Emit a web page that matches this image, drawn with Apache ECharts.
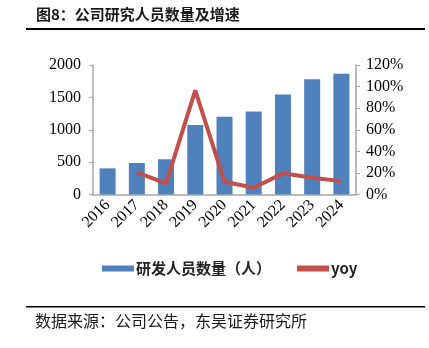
<!DOCTYPE html>
<html><head><meta charset="utf-8">
<script src="https://cdn.jsdelivr.net/npm/echarts@6/dist/echarts.min.js"></script>
<style>html,body{margin:0;padding:0;background:#fff}#c{width:429px;height:348px}</style>
</head><body><div id="c"></div>
<script>
const categories = ['2016','2017','2018','2019','2020','2021','2022','2023','2024'];
const staff = [404, 487, 544, 1073, 1202, 1280, 1544, 1778, 1866];
const yoy = [null, 0.205, 0.103, 0.964, 0.118, 0.062, 0.196, 0.155, 0.124];
const leftTicks = {min: 0, max: 2000, interval: 500};
const rightTicks = {min: 0, max: 1.2, interval: 0.2};
const titleText = '图8：公司研究人员数量及增速';
const sourceText = '数据来源：公司公告，东吴证券研究所';
const barName = '研发人员数量（人）';
const lineName = 'yoy';

const chart = echarts.init(document.getElementById('c'), null, {renderer: 'canvas'});
const serif = '"Liberation Serif","Times New Roman",serif';
const cjk = '"Noto Sans CJK SC","Noto Sans",sans-serif';
chart.setOption({
  animation: false,
  backgroundColor: '#fff',
  graphic: [
    {type: 'text', left: 36, top: 7, style: {text: titleText, font: 'bold 15px ' + cjk, fill: '#1a1a1a'}},
    {type: 'rect', shape: {x: 26, y: 28, width: 399, height: 2}, style: {fill: '#000'}},
    {type: 'rect', shape: {x: 26, y: 306, width: 399, height: 1.5}, style: {fill: '#000'}},
    {type: 'text', left: 35, top: 313, style: {text: sourceText, font: '16px ' + cjk, fill: '#1a1a1a'}}
  ],
  grid: {left: 93, right: 73, top: 65, bottom: 153.5, containLabel: false},
  legend: {
    top: 256, left: 97,
    itemWidth: 32, itemHeight: 6, itemGap: 26,
    textStyle: {fontFamily: cjk, fontSize: 15, fontWeight: 'bold', color: '#222', padding: [0,0,0,-3]},
    data: [{name: barName, icon: 'rect'}, {name: lineName, icon: 'rect', itemStyle: {color: '#C0504D'}}]
  },
  xAxis: {
    type: 'category', data: categories,
    axisLine: {lineStyle: {color: '#A6A6A6', width: 1.5}},
    axisTick: {show: false},
    axisLabel: {rotate: 45, fontFamily: serif, fontSize: 16, color: '#000', margin: 8, interval: 0}
  },
  yAxis: [
    {type: 'value', min: leftTicks.min, max: leftTicks.max, interval: leftTicks.interval,
     splitLine: {show: false},
     axisLine: {show: true, lineStyle: {color: '#A6A6A6', width: 1.5}},
     axisTick: {show: true, length: 4, lineStyle: {color: '#A6A6A6'}},
     axisLabel: {fontFamily: serif, fontSize: 16, color: '#000', margin: 12, formatter: v => String(v)}},
    {type: 'value', min: rightTicks.min, max: rightTicks.max, interval: rightTicks.interval,
     splitLine: {show: false},
     axisLine: {show: true, lineStyle: {color: '#A6A6A6', width: 1.5}},
     axisTick: {show: true, length: 4, lineStyle: {color: '#A6A6A6'}},
     axisLabel: {fontFamily: serif, fontSize: 16, color: '#000', margin: 10,
       formatter: v => Math.round(v * 100) + '%'}}
  ],
  series: [
    {name: barName, type: 'bar', data: staff, barWidth: 16, itemStyle: {color: '#4F81BD'}},
    {name: lineName, type: 'line', yAxisIndex: 1, data: yoy, symbol: 'none',
     lineStyle: {color: '#C0504D', width: 4}, itemStyle: {color: '#C0504D'}}
  ]
});
</script></body></html>
